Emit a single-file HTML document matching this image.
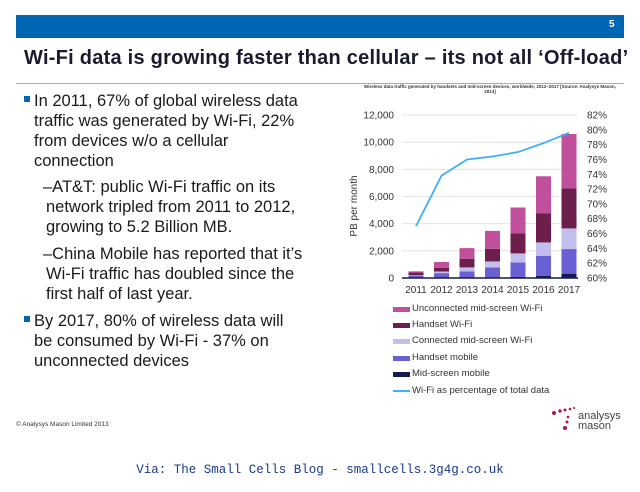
<!DOCTYPE html>
<html><head><meta charset="utf-8"><style>
body{margin:0;width:640px;height:492px;background:#fff;font-family:"Liberation Sans",sans-serif;position:relative;overflow:hidden}
.abs{position:absolute}
.t{position:absolute;font-size:16.5px;color:#1a1a1a;white-space:nowrap;line-height:20px}
.lg{position:absolute;font-size:9.5px;color:#333;white-space:nowrap}
.sw{position:absolute;width:17px;height:5px}
</style></head><body>
<div class="abs" style="left:16px;top:15px;width:608px;height:23px;background:#0066b3"></div>
<div class="abs" style="left:609px;top:19px;color:#fff;font-size:10px;font-weight:bold">5</div>
<div class="abs" style="left:24px;top:47px;font-size:20px;font-weight:bold;letter-spacing:0.25px;color:#1a1a2e;white-space:nowrap">Wi-Fi data is growing faster than cellular – its not all ‘Off-load’</div>
<div class="abs" style="left:16px;top:83px;width:608px;height:1px;background:#aab"></div>
<div>
<div class="abs" style="left:24px;top:96px;width:6px;height:6px;background:#0066b3"></div>
<div class="t" style="left:34px;top:91px">In 2011, 67% of global wireless data</div>
<div class="t" style="left:34px;top:111px">traffic was generated by Wi-Fi, 22%</div>
<div class="t" style="left:34px;top:131px">from devices w/o a cellular</div>
<div class="t" style="left:34px;top:151px">connection</div>
<div class="t" style="left:43px;top:177px">–AT&amp;T: public Wi-Fi traffic on its</div>
<div class="t" style="left:46px;top:197px">network tripled from 2011 to 2012,</div>
<div class="t" style="left:46px;top:217px">growing to 5.2 Billion MB.</div>
<div class="t" style="left:43px;top:244px">–China Mobile has reported that it’s</div>
<div class="t" style="left:46px;top:264px">Wi-Fi traffic has doubled since the</div>
<div class="t" style="left:46px;top:284px">first half of last year.</div>
<div class="abs" style="left:24px;top:316px;width:6px;height:6px;background:#0066b3"></div>
<div class="t" style="left:34px;top:311px">By 2017, 80% of wireless data will</div>
<div class="t" style="left:34px;top:331px">be consumed by Wi-Fi - 37% on</div>
<div class="t" style="left:34px;top:351px">unconnected devices</div>
</div>
<svg class="abs" style="left:0;top:0" width="640" height="492" id="chart">
<text x="490" y="88" font-size="4.5" font-weight="bold" text-anchor="middle" fill="#333" font-family="Liberation Sans">Wireless data traffic generated by handsets and mid-screen devices, worldwide, 2012–2017 [Source: Analysys Mason,</text>
<text x="490" y="93" font-size="4.5" font-weight="bold" text-anchor="middle" fill="#333" font-family="Liberation Sans">2013]</text>
<text x="357" y="206" font-size="10" fill="#333" transform="rotate(-90 357 206)" text-anchor="middle" font-family="Liberation Sans">PB per month</text>
</svg>
<div>
<div class="sw" style="left:393px;top:307px;background:#c0509c"></div><div class="lg" style="left:412px;top:303px">Unconnected mid-screen Wi-Fi</div>
<div class="sw" style="left:393px;top:323px;background:#6b1f4a"></div><div class="lg" style="left:412px;top:319px">Handset Wi-Fi</div>
<div class="sw" style="left:393px;top:339px;background:#c2bfec"></div><div class="lg" style="left:412px;top:335px">Connected mid-screen Wi-Fi</div>
<div class="sw" style="left:393px;top:356px;background:#6a5fd3"></div><div class="lg" style="left:412px;top:352px">Handset mobile</div>
<div class="sw" style="left:393px;top:372px;background:#141a4e"></div><div class="lg" style="left:412px;top:368px">Mid-screen mobile</div>
<div class="abs" style="left:393px;top:390px;width:17px;height:2px;background:#3fb0f5"></div><div class="lg" style="left:412px;top:385px">Wi-Fi as percentage of total data</div>
</div>
<div class="abs" style="left:578px;top:411px;font-size:11px;line-height:10px">
<svg class="abs" style="left:-27px;top:-6px" width="26" height="28"><g fill="#b0154f"><circle cx="3" cy="8" r="2"/><circle cx="9" cy="6" r="1.7"/><circle cx="14" cy="5" r="1.5"/><circle cx="19" cy="4" r="1.3"/><circle cx="23" cy="3" r="1"/><circle cx="17" cy="12" r="1.3"/><circle cx="16" cy="17" r="1.5"/><circle cx="14" cy="23" r="2"/></g></svg>
<div style="position:absolute;left:0;top:0;color:#444">analysys</div><div style="position:absolute;left:0;top:10px;color:#444">mason</div></div>
<div class="abs" style="left:16px;top:421px;font-size:6.5px;color:#333">© Analysys Mason Limited 2013</div>
<div class="abs" style="left:0;width:640px;top:463px;text-align:center;font-family:'Liberation Mono',monospace;font-size:12.5px;color:#1b3a8c">Via: The Small Cells Blog - smallcells.3g4g.co.uk</div>
<script>
const years=["2011","2012","2013","2014","2015","2016","2017"];
const midMobile=[20,30,40,50,80,170,320];
const handsetMobile=[150,330,450,730,1070,1470,1810];
const connectedWifi=[30,120,290,440,660,980,1520];
const handsetWifi=[200,280,640,930,1470,2130,2960];
const unconnectedWifi=[90,420,780,1320,1910,2740,3990];
const wifiPct=[67,73.8,76,76.4,77,78.2,79.6];
const leftTicks=[0,2000,4000,6000,8000,10000,12000];
const rightTicks=[60,62,64,66,68,70,72,74,76,78,80,82];
const NS="http://www.w3.org/2000/svg",svg=document.getElementById('chart');
const y=v=>278-v*(163/12000), y2=p=>278-(p-60)*(163/22), x=i=>416+i*25.5;
function el(t,a,p){const e=document.createElementNS(NS,t);for(const k in a)e.setAttribute(k,a[k]);(p||svg).appendChild(e);return e;}
leftTicks.forEach(v=>{
  if(v>0){const g=el('line',{x1:402,x2:578,y1:y(v),y2:y(v),stroke:'#ddd','stroke-width':0.8});}
  const t=el('text',{x:394,y:y(v)+3.5,'font-size':10,'text-anchor':'end',fill:'#333','font-family':'Liberation Sans'});t.textContent=v.toLocaleString('en-US');
  
  
});
rightTicks.forEach(p=>{const t=el('text',{x:587,y:y2(p)+3.5,'font-size':10,fill:'#333','font-family':'Liberation Sans'});t.textContent=p+'%';
  
  });
const series=[[midMobile,'#141a4e'],[handsetMobile,'#6a5fd3'],[connectedWifi,'#c2bfec'],[handsetWifi,'#6b1f4a'],[unconnectedWifi,'#c0509c']];
years.forEach((yr,i)=>{let acc=0;
  series.forEach(([arr,c])=>{const r=el('rect',{x:x(i)-7.5,width:15,y:y(acc+arr[i]),height:y(acc)-y(acc+arr[i]),fill:c});acc+=arr[i];
    
    });
  const t=el('text',{x:x(i),y:293,'font-size':10,'text-anchor':'middle',fill:'#333','font-family':'Liberation Sans'});t.textContent=yr;
  
  
});
const ax=el('line',{x1:402,x2:578,y1:278,y2:278,stroke:'#141a4e','stroke-width':1.5});


const pl=el('polyline',{points:wifiPct.map((p,i)=>x(i)+','+y2(p)).join(' '),fill:'none',stroke:'#3fb0f5','stroke-width':1.8});


</script>
</body></html>
